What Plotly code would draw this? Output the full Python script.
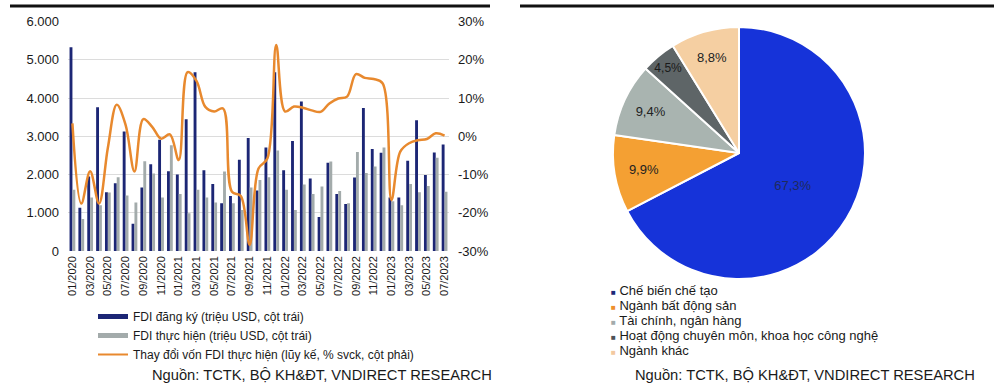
import plotly.graph_objects as go

# ---------------- data: left panel ----------------
months = ["01/2020", "02/2020", "03/2020", "04/2020", "05/2020", "06/2020", "07/2020", "08/2020",
          "09/2020", "10/2020", "11/2020", "12/2020", "01/2021", "02/2021", "03/2021", "04/2021",
          "05/2021", "06/2021", "07/2021", "08/2021", "09/2021", "10/2021", "11/2021", "12/2021",
          "01/2022", "02/2022", "03/2022", "04/2022", "05/2022", "06/2022", "07/2022", "08/2022",
          "09/2022", "10/2022", "11/2022", "12/2022", "01/2023", "02/2023", "03/2023", "04/2023",
          "05/2023", "06/2023", "07/2023"]
fdi_registered = [5330, 1130, 1950, 3760, 1540, 1770, 3130, 710, 1660, 2270, 2910, 2090, 2000, 3450,
                  4680, 2110, 1750, 1250, 1440, 2390, 2960, 1580, 2710, 4680, 2110, 2880, 3910, 1900,
                  890, 2310, 1490, 1230, 1920, 3740, 2670, 2570, 1400, 1400, 2360, 3420, 1990, 2580, 2790]
fdi_disbursed = [1600, 840, 1400, 1200, 1530, 1930, 1450, 1270, 2350, 2030, 1400, 2770, 1490, 990,
                 1600, 1400, 1270, 2080, 1250, 1070, 1660, 1860, 1930, 2630, 1600, 1070, 1740, 1490,
                 1690, 2340, 1570, 1250, 2590, 2040, 2210, 2710, 1300, 1200, 1750, 1540, 1700, 2440, 1550]
disbursed_change_pct = [3.4, -17.6, -9.1, -17.6, -3.0, 8.3, 3.0, -9.2, 4.5, 2.5, -0.6, 0.5, -6.2, 16.8,
                        14.5, 7.7, 6.5, 7.3, -14.5, -15.6, -28.4, -8.4, -5.8, 23.9, 6.5, 7.8, 7.5, 6.8,
                        6.4, 8.6, 9.9, 10.4, 16.3, 15.3, 15.0, 13.9, -16.7, -4.0, -1.8, -1.0, -0.7, 0.8, 0.2]
x_tick_labels = months[::2]
left_ticks = [0, 1000, 2000, 3000, 4000, 5000, 6000]
left_tick_text = ["0", "1.000", "2.000", "3.000", "4.000", "5.000", "6.000"]
right_ticks = [-30, -20, -10, 0, 10, 20, 30]
right_tick_text = ["-30%", "-20%", "-10%", "0%", "10%", "20%", "30%"]

series_names = ["FDI đăng ký (triệu USD, cột trái)",
                "FDI thực hiện (triệu USD, cột trái)",
                "Thay đổi vốn FDI thực hiện (lũy kế, % svck, cột phải)"]

# ---------------- data: right panel ----------------
sectors = ["Chế biến chế tạo", "Ngành bất động sản", "Tài chính, ngân hàng",
           "Hoạt động chuyên môn, khoa học công nghệ", "Ngành khác"]
sector_share = [67.3, 9.9, 9.4, 4.5, 8.8]

source_text = "Nguồn: TCTK, BỘ KH&ĐT, VNDIRECT RESEARCH"

# ---------------- styles ----------------
FONT = "Liberation Sans, Arial, sans-serif"
NAVY = "#1c2675"
GRAY = "#a3abab"
ORANGE = "#e8892e"
slice_colors = ["#1633d9", "#f4a033", "#a9b4b0", "#5e6567", "#f5cfa2"]
legend_marker_colors = ["#1c2a78", "#ee8f2a", "#a3abab", "#4d5256", "#f3c9a0"]
slice_text_colors = ["#1f2a5c", "#222222", "#222222", "#1a1a1a", "#222222"]

W, H = 1000, 388
def px_x(v):
    return v / W
def px_y(v):
    return 1 - v / H

fig = go.Figure()

fig.add_trace(go.Bar(x=months, y=fdi_registered, name=series_names[0], marker_color=NAVY,
                     marker_line_width=0, showlegend=False, legendgroup="a",
                     xaxis="x", yaxis="y"))
fig.add_trace(go.Bar(x=months, y=fdi_disbursed, name=series_names[1], marker_color=GRAY,
                     marker_line_width=0, showlegend=False, legendgroup="b",
                     xaxis="x", yaxis="y"))
fig.add_trace(go.Scatter(x=months, y=disbursed_change_pct, name=series_names[2], mode="lines",
                         line=dict(color=ORANGE, width=2.5, shape="spline", smoothing=1.0),
                         showlegend=False, legendgroup="c", xaxis="x", yaxis="y2"))

# legend entries (line-style keys as in the original)
fig.add_trace(go.Scatter(x=[None], y=[None], mode="lines", name=series_names[0],
                         line=dict(color=NAVY, width=5), legendgroup="a", xaxis="x", yaxis="y"))
fig.add_trace(go.Scatter(x=[None], y=[None], mode="lines", name=series_names[1],
                         line=dict(color=GRAY, width=5), legendgroup="b", xaxis="x", yaxis="y"))
fig.add_trace(go.Scatter(x=[None], y=[None], mode="lines", name=series_names[2],
                         line=dict(color=ORANGE, width=2), legendgroup="c", xaxis="x", yaxis="y"))

fig.add_trace(go.Pie(labels=sectors, values=sector_share, sort=False, direction="clockwise",
                     rotation=0, marker=dict(colors=slice_colors, line=dict(color="white", width=2)),
                     texttemplate="%{value:.1f}%", textposition="inside",
                     insidetextorientation="horizontal",
                     textfont=dict(family=FONT, size=13, color=slice_text_colors),
                     domain=dict(x=[px_x(613), px_x(865)], y=[px_y(279), px_y(27)]),
                     showlegend=False, hoverinfo="label+percent"))

annotations = []
# pie legend (compact rows)
for i, (name, col) in enumerate(zip(sectors, legend_marker_colors)):
    annotations.append(dict(
        x=px_x(609), y=px_y(290 + i * 15.2), xref="paper", yref="paper",
        xanchor="left", yanchor="middle", showarrow=False,
        text=f"<span style='color:{col};font-size:8px'>■</span> {name}",
        font=dict(family=FONT, size=13, color="#1a1a1a")))
# sources
annotations.append(dict(x=px_x(150), y=px_y(375), xref="paper", yref="paper", xanchor="left",
                        yanchor="middle", showarrow=False, text=source_text,
                        font=dict(family=FONT, size=14.7, color="#1a1a1a")))
annotations.append(dict(x=px_x(633), y=px_y(375), xref="paper", yref="paper", xanchor="left",
                        yanchor="middle", showarrow=False, text=source_text,
                        font=dict(family=FONT, size=14.7, color="#1a1a1a")))

shapes = [
    dict(type="line", xref="paper", yref="paper", x0=px_x(10), x1=px_x(490), y0=px_y(6), y1=px_y(6),
         line=dict(color="#111111", width=3)),
    dict(type="line", xref="paper", yref="paper", x0=px_x(520), x1=px_x(994), y0=px_y(6), y1=px_y(6),
         line=dict(color="#111111", width=3)),
]

fig.update_layout(
    width=W, height=H, autosize=False,
    margin=dict(l=0, r=0, t=0, b=0, pad=0),
    paper_bgcolor="white", plot_bgcolor="white",
    font=dict(family=FONT, size=13, color="#1a1a1a"),
    separators=",.",
    barmode="group", bargap=0.35, bargroupgap=0.0,
    xaxis=dict(domain=[px_x(68), px_x(449)], type="category", categoryorder="array",
               categoryarray=months, range=[-0.5, len(months) - 0.5],
               tickmode="array", tickvals=x_tick_labels, ticktext=x_tick_labels,
               tickangle=-90, tickfont=dict(size=11), showgrid=False, zeroline=False,
               showline=False, ticks="", ticklabelstandoff=2, automargin=False),
    yaxis=dict(domain=[px_y(251), px_y(21.7)], range=[0, 6000], tickmode="array",
               tickvals=left_ticks, ticktext=left_tick_text, showgrid=True,
               gridcolor="#dcdcdc", gridwidth=1, zeroline=False, showline=False,
               ticks="", tickfont=dict(size=13), ticklabelstandoff=8, automargin=False),
    yaxis2=dict(overlaying="y", side="right", anchor="x", range=[-30, 30], tickmode="array",
                tickvals=right_ticks, ticktext=right_tick_text, showgrid=False, zeroline=False,
                showline=False, ticks="", tickfont=dict(size=13), ticklabelstandoff=8,
                automargin=False),
    legend=dict(x=px_x(93), y=px_y(302), xanchor="left", yanchor="top",
                font=dict(family=FONT, size=12, color="#1a1a1a"), bgcolor="rgba(0,0,0,0)",
                traceorder="normal", itemwidth=30, tracegroupgap=0),
    annotations=annotations,
    shapes=shapes,
)

fig.write_html("out.html", config={"displayModeBar": False},
               post_script="document.body.style.margin='0';document.body.style.padding='0';")
